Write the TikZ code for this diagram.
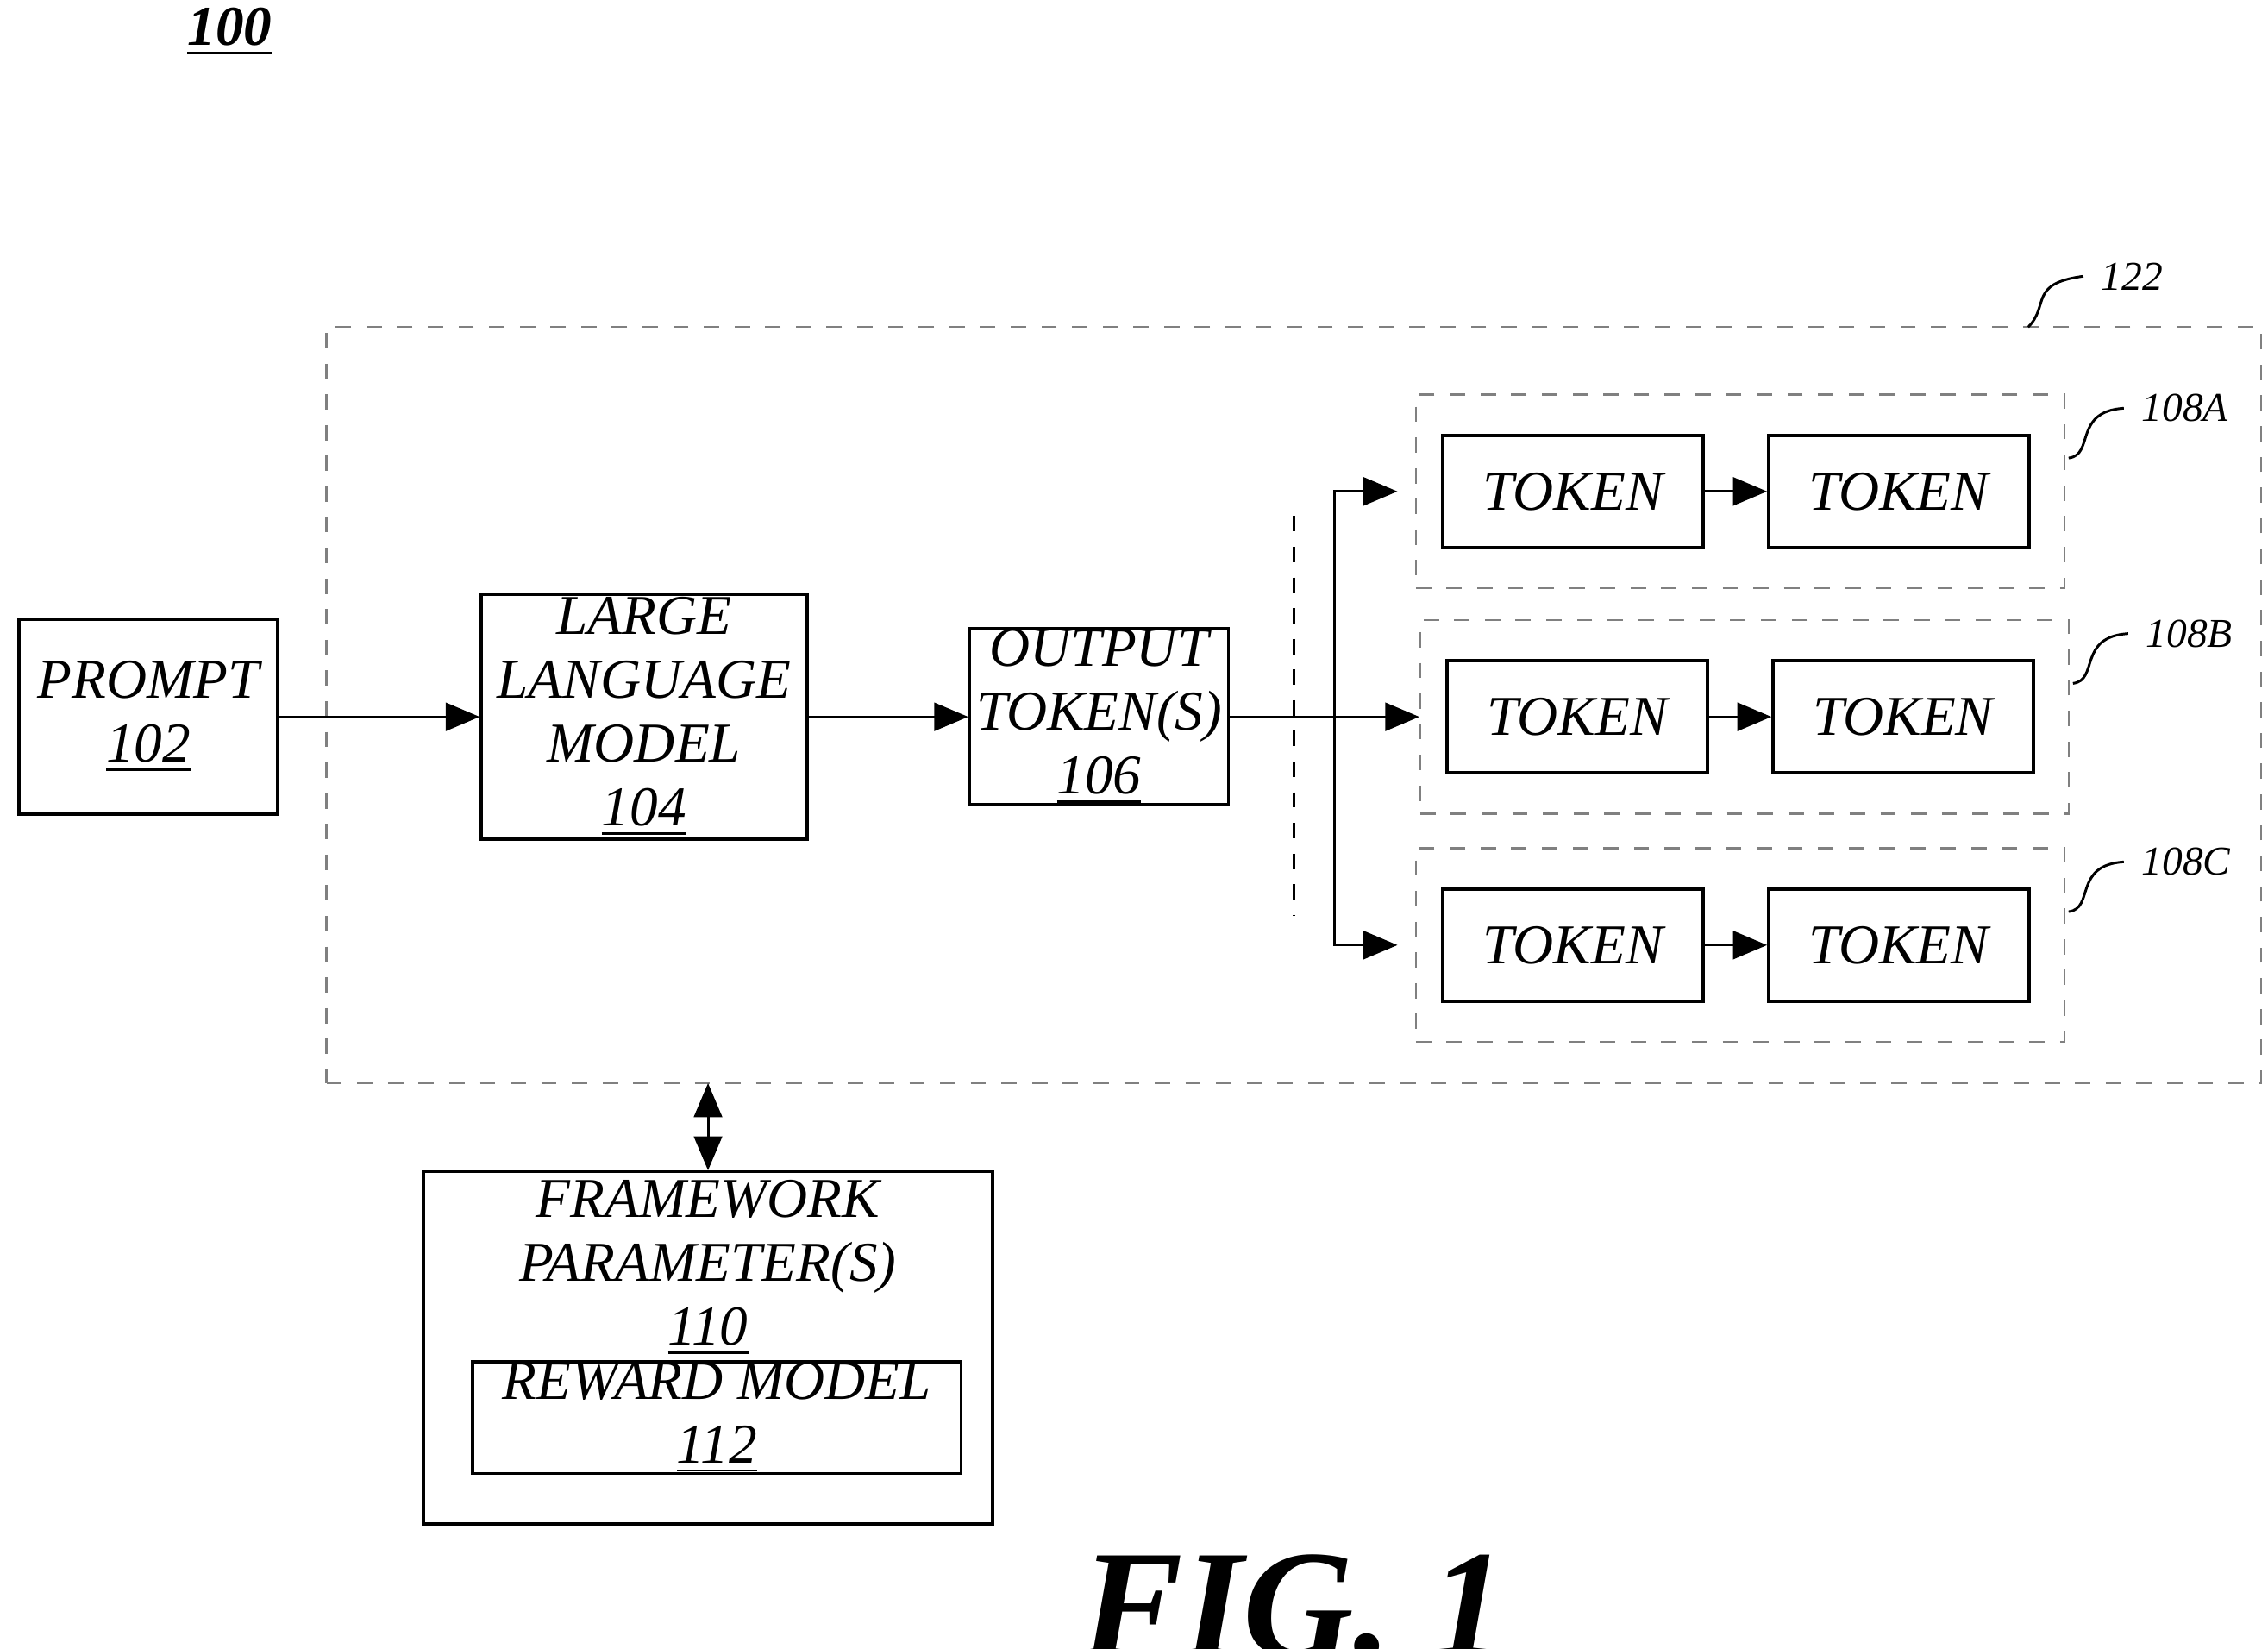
\documentclass[tikz,border=0pt]{standalone}
\usepackage{fontspec}
\setmainfont{Liberation Serif}
\usetikzlibrary{positioning}
\usetikzlibrary{arrows}
\usetikzlibrary{calc}

\begin{document}
\begin{tikzpicture}[x=0.01cm, y=-0.01cm,
    every node/.style={align=center, font=\itshape\fontsize{11}{12.5}\selectfont},
    blk/.style={draw, line width=0.6pt, inner sep=0pt},
    grp/.style={draw=gray, dashed, line width=0.4pt, inner sep=0pt},
    arr/.style={-triangle 45, line width=0.5pt},
    squig/.style={line width=0.5pt}]

        \useasboundingbox (0,0) rectangle (1560,1134);

        % Figure number
        \node[font=\bfseries\itshape\fontsize{11}{12}\selectfont] (figNum) at (158,22) {\underline{100}};

        % Outer framework box
        \node[grp, minimum width=13.3cm, minimum height=5.2cm] (frameBox) at (890,485) {};
        \coordinate (frameLbl) at (1395,225);
        \node[font=\itshape\fontsize{8}{9}\selectfont, anchor=west] (frameNum) at (1433,190) {122};
        \draw[squig] (frameLbl) .. controls (1410,210) and (1395,195) .. (frameNum.west);

        % Main chain
        \node[blk, minimum width=1.78cm, minimum height=1.34cm] (promptBox) at (102,493) {PROMPT\\\underline{102}};
        \node[blk, minimum width=2.24cm, minimum height=1.68cm] (llmBox) at (443,493) {LARGE\\LANGUAGE\\MODEL\\\underline{104}};
        \node[blk, minimum width=1.78cm, minimum height=1.14cm] (outBox) at (756,493) {OUTPUT\\TOKEN(S)\\\underline{106}};

        \draw[arr] (promptBox) -- (llmBox);
        \draw[arr] (llmBox) -- (outBox);

        % Token sequences
        \foreach \nm/\cx/\cy in {A/1197/338, B/1200/493, C/1197/650} {
            \node[grp, minimum width=4.46cm, minimum height=1.33cm] (seq\nm) at (\cx,\cy) {};
            \node[blk, minimum width=1.79cm, minimum height=0.77cm] (tokL\nm) at (\cx-115,\cy) {TOKEN};
            \node[blk, minimum width=1.79cm, minimum height=0.77cm] (tokR\nm) at (\cx+109,\cy) {TOKEN};
            \draw[arr] (tokL\nm) -- (tokR\nm);
            \node[font=\itshape\fontsize{8}{9}\selectfont, anchor=west] (seqNum\nm) at ($(seq\nm.north east)+(40,10)$) {108\nm};
            \draw[squig] ($(seq\nm.east)+(2,-23)$) .. controls ($(seq\nm.east)+(20,-25)$) and ($(seq\nm.east)+(5,-55)$) .. (seqNum\nm.west);
        }

        % Branching
        \coordinate (split) at (918,493);
        \draw[dashed, line width=0.6pt] (890,355) -- (890,630);
        \draw[line width=0.5pt] (outBox.east) -- (split);
        \draw[arr] (split) |- ($(seqA.west)+(-12,0)$);
        \draw[arr] (split) -- (seqB.west);
        \draw[arr] (split) |- ($(seqC.west)+(-12,0)$);

        % Parameters
        \node[blk, minimum width=3.91cm, minimum height=2.42cm] (paramBox) at (487,927) {};
        \node (paramTxt) at (487,872) {FRAMEWORK\\PARAMETER(S)\\\underline{110}};
        \node[blk, minimum width=3.36cm, minimum height=0.77cm] (rewardBox) at (493,975) {REWARD MODEL\\\underline{112}};
        \draw[triangle 45-triangle 45, line width=0.5pt] (paramBox.north) -- (487,745);

        \node[font=\bfseries\itshape\fontsize{30}{32}\selectfont] (figLbl) at (890,1105) {FIG. 1};
    \end{tikzpicture}
\end{document}
